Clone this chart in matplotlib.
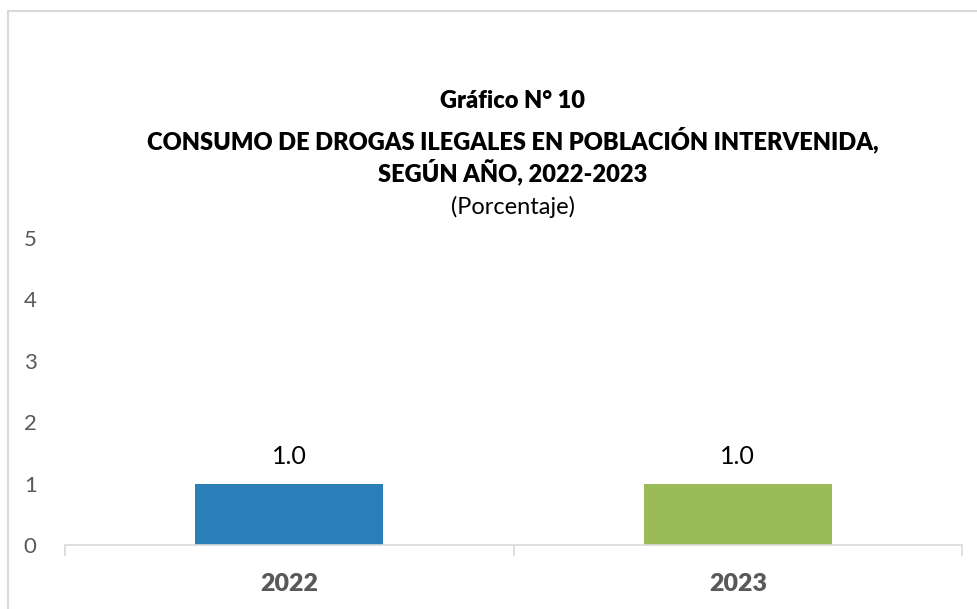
import matplotlib.pyplot as plt
from matplotlib.patches import Rectangle

years = ["2022", "2023"]
values = [1.0, 1.0]
colors = ["#2A7FB8", "#9BBB59"]
yticks = [0, 1, 2, 3, 4, 5]

plt.rcParams['font.family'] = ['Lato', 'DejaVu Sans']

fig = plt.figure(figsize=(9.77, 6.09), dpi=100)
W, H = 977, 609

# outer chart border (cropped on the right and bottom)
fig.patches.append(Rectangle((8 / W, -0.1), 1.1, (H - 11) / H + 0.1,
                             transform=fig.transFigure, fill=False,
                             edgecolor="#D9D9D9", linewidth=1.5))

ax = fig.add_axes([65 / W, 1 - 545 / H, (962 - 65) / W, (545 - 238) / H])
x = [0, 1]
bars = ax.bar(x, values, width=0.42, color=colors)
ax.set_xlim(-0.5, 1.5)
ax.set_ylim(0, 5)
ax.set_yticks(yticks)
ax.set_yticklabels([str(t) for t in yticks], fontsize=16, color="#595959")
ax.tick_params(axis="y", length=0, pad=25)
for lbl in ax.get_yticklabels():
    lbl.set_horizontalalignment("center")
ax.set_xticks([-0.5, 0.5, 1.5], minor=True)
ax.set_xticks(x)
ax.set_xticklabels(years, fontsize=18, fontweight="heavy", color="#595959")
ax.tick_params(axis="x", which="major", length=0, pad=20)
ax.tick_params(axis="x", which="minor", length=8, color="#D9D9D9", width=1.2)
for s in ["top", "right", "left"]:
    ax.spines[s].set_visible(False)
ax.spines["bottom"].set_color("#D9D9D9")
ax.spines["bottom"].set_linewidth(1.2)

for b, v in zip(bars, values):
    ax.text(b.get_x() + b.get_width() / 2, v + 0.25, f"{v:.1f}",
            ha="center", va="bottom", fontsize=18, color="black")

title_kw = dict(ha="center", va="center", fontsize=17, fontweight="heavy")
fig.text(513 / W, 1 - 101 / H, "Gráfico N° 10", **title_kw)
fig.text(513 / W, 1 - 140 / H, "CONSUMO DE DROGAS ILEGALES EN POBLACIÓN INTERVENIDA,", **title_kw)
fig.text(513 / W, 1 - 172 / H, "SEGÚN AÑO, 2022-2023", **title_kw)
fig.text(513 / W, 1 - 207 / H, "(Porcentaje)", ha="center", va="center",
         fontsize=17)

fig.savefig("out.png", dpi=100)
